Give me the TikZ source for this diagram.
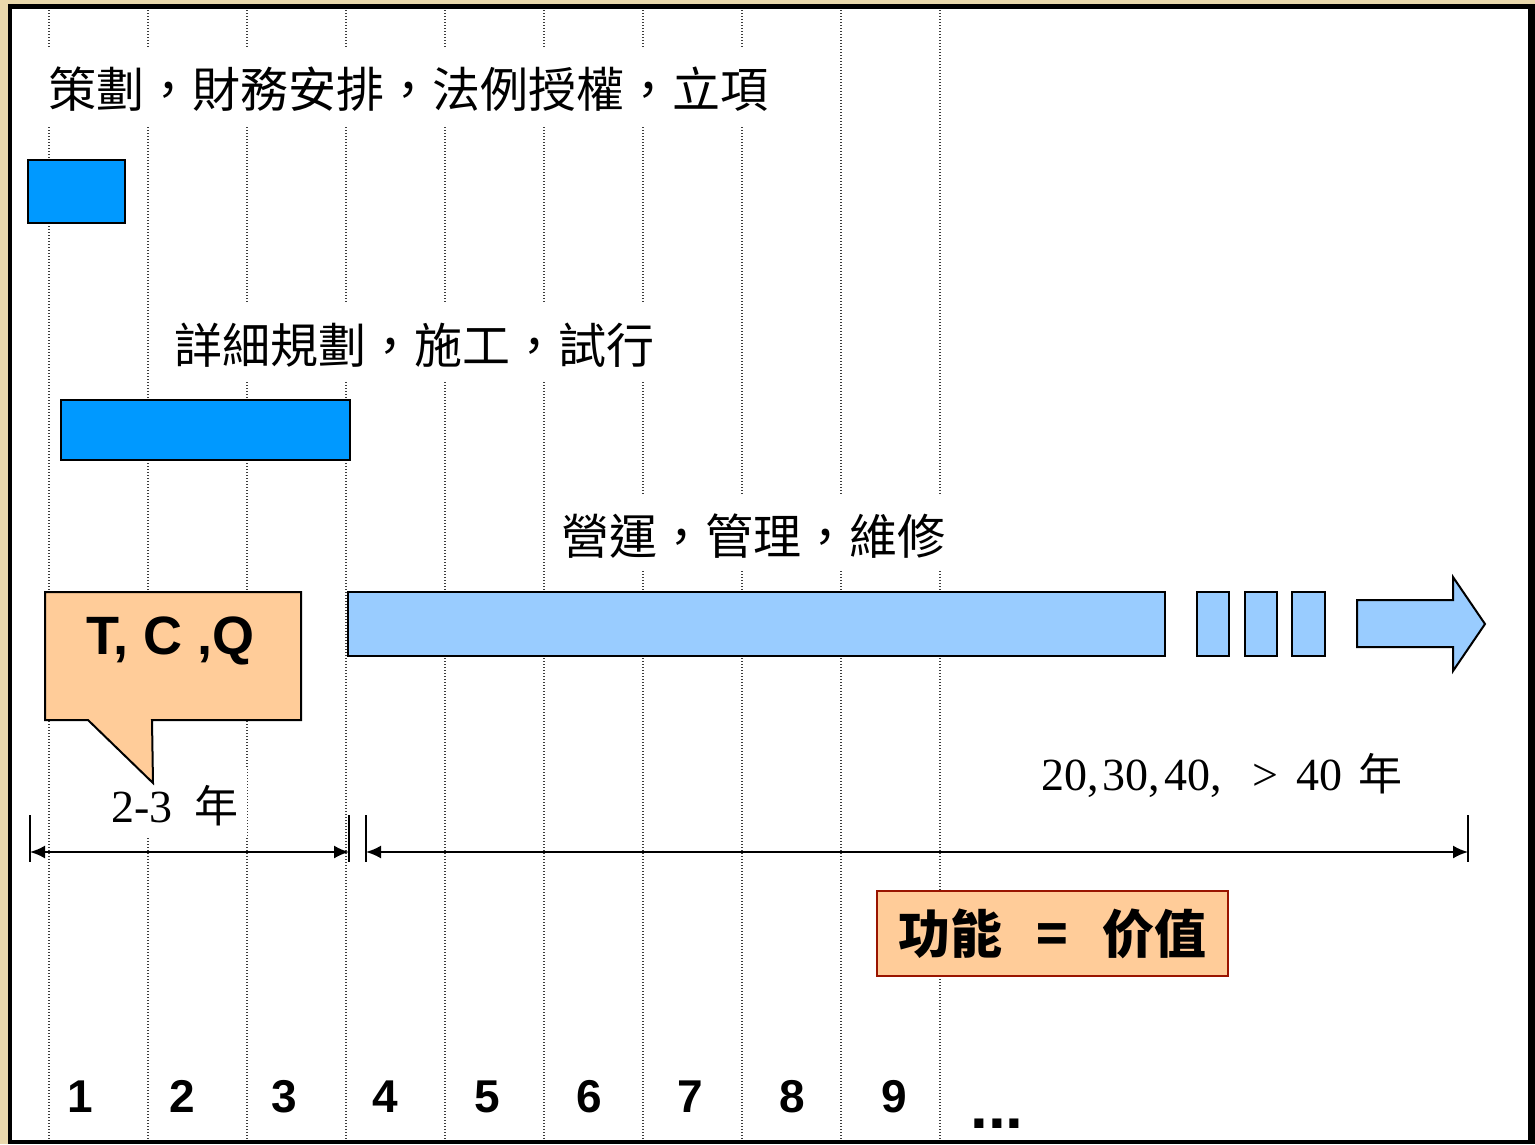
\documentclass[tikz,border=0pt]{standalone}
\usepackage{fontspec}
\usetikzlibrary{arrows.meta}
\newfontfamily\cjk{Noto Sans CJK TC}
\newfontfamily\cjksc{Noto Sans CJK SC}
\newfontfamily\arialf{Liberation Sans}
\newfontfamily\timesf{Liberation Serif}
\definecolor{beige}{RGB}{233,216,172}
\definecolor{bblue}{RGB}{0,153,255}
\definecolor{lblue}{RGB}{153,204,255}
\definecolor{peach}{RGB}{255,204,153}
\definecolor{maroonc}{RGB}{153,20,0}
\definecolor{dotgray}{RGB}{60,60,60}
\begin{document}
\begin{tikzpicture}[x=1pt,y=-1pt,
  gridline/.style={dotgray, line width=1.2pt, dash pattern=on 1.2pt off 1.8pt},
  darkbar/.style={draw=black, line width=2pt, fill=bblue},
  lightbar/.style={draw=black, line width=2pt, fill=lblue},
  phase/.style={fill=white, inner xsep=3pt, inner ysep=5pt, text height=55pt, text depth=13pt,
    font=\cjk\fontsize{48}{50}\selectfont, anchor=base west},
  tick/.style={line width=2pt},
  dimarrow/.style={line width=2pt, {Latex[length=15pt,width=13pt]}-{Latex[length=15pt,width=13pt]}},
  num/.style={font=\arialf\bfseries\fontsize{46}{50}\selectfont, anchor=base, inner sep=0pt},
  serifnum/.style={font=\timesf\fontsize{46}{50}\selectfont, anchor=base west}
]
\useasboundingbox (0,0) rectangle (1535,1144);
% frame
\fill[beige] (0,0) rectangle (1535,1144);
\fill[black] (8,4) rectangle (1535,1144);
\fill[white] (12,9) rectangle (1528,1140);
% dotted year lines
\foreach \i in {0,...,9} {
  \draw[gridline] ({49+99*\i},10) -- ({49+99*\i},1139);
}
% phase labels
\node[phase] (p1) at (45,107) {策劃，財務安排，法例授權，立項};
\node[phase] (p2) at (171,363) {詳細規劃，施工，試行};
\node[phase, inner ysep=4pt] (p3) at (558,554) {營運，管理，維修};
% bars
\draw[darkbar] (28,160) rectangle (125,223);
\draw[darkbar] (61,400) rectangle (350,460);
\draw[lightbar] (348,592) rectangle (1165,656);
\draw[lightbar] (1197,592) rectangle (1229,656);
\draw[lightbar] (1245,592) rectangle (1277,656);
\draw[lightbar] (1292,592) rectangle (1325,656);
\draw[lightbar] (1357,600) -- (1453,600) -- (1453,577) -- (1485,624) -- (1453,671) -- (1453,647) -- (1357,647) -- cycle;
% durations
\node[serifnum, fill=white, inner xsep=8pt, inner ysep=3pt, text height=52pt, text depth=11pt] (short) at (103,822)
  {2-3\hspace{22pt}{\cjk\fontsize{44}{48}\selectfont 年}};
\node[serifnum, inner sep=0pt] (long) at (1041,790)
  {20,\hspace{4pt}30,\hspace{4pt}40,\hspace{31pt}>\hspace{18pt}40\hspace{16pt}{\cjk\fontsize{44}{48}\selectfont 年}};
% callout
\draw[fill=peach, line width=2pt, line join=miter] (45,592) -- (301,592) -- (301,720) -- (152,720) -- (153,783) -- (88,720) -- (45,720) -- cycle;
\node[font=\arialf\bfseries\fontsize{54}{58}\selectfont, anchor=base west, inner sep=0pt] (tcq) at (86,654) {T, C ,Q};
% dimension lines
\coordinate (a1t) at (30,815);  \coordinate (a1b) at (30,862);
\coordinate (a2t) at (349,815); \coordinate (a2b) at (349,862);
\coordinate (b1t) at (366,815); \coordinate (b1b) at (366,862);
\coordinate (b2t) at (1468,815); \coordinate (b2b) at (1468,862);
\coordinate (a1) at (30,852); \coordinate (a2) at (349,852);
\coordinate (b1) at (366,852); \coordinate (b2) at (1468,852);
\draw[tick] (a1t) -- (a1b);
\draw[tick] (a2t) -- (a2b);
\draw[tick] (b1t) -- (b1b);
\draw[tick] (b2t) -- (b2b);
\draw[dimarrow] (a1) -- (a2);
\draw[dimarrow] (b1) -- (b2);
% value box
\node[draw=maroonc, line width=2pt, fill=peach, minimum width=351pt, minimum height=85pt,
  text height=40pt, text depth=0pt, inner sep=0pt, font=\cjksc\bfseries\fontsize{52}{56}\selectfont]
  (value) at (1052.5,933.5) {功能\hspace{34pt}=\hspace{34pt}价值};
% year numbers
\node[num] (n1) at (80,1112) {1};
\node[num] (n2) at (182,1112) {2};
\node[num] (n3) at (284,1112) {3};
\node[num] (n4) at (385,1112) {4};
\node[num] (n5) at (487,1112) {5};
\node[num] (n6) at (589,1112) {6};
\node[num] (n7) at (690,1112) {7};
\node[num] (n8) at (792,1112) {8};
\node[num] (n9) at (894,1112) {9};
\node[font=\arialf\bfseries\fontsize{64}{66}\selectfont, anchor=base west, inner sep=0pt] (more) at (970,1128) {...};
\end{tikzpicture}
\end{document}
